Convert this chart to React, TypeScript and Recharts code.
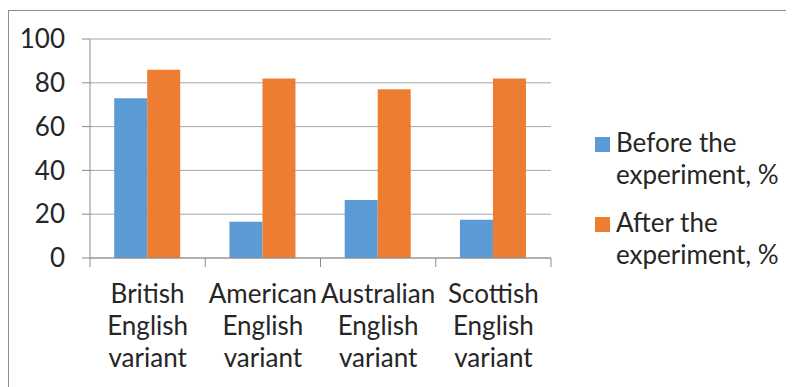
import { Bar, BarChart, CartesianGrid, XAxis, YAxis } from "recharts";

const categories = [
  "British English variant",
  "American English variant",
  "Australian English variant",
  "Scottish English variant",
];
const beforeValues = [73, 16.5, 26.5, 17.5];
const afterValues = [86, 82, 77, 82];
const yTicks = [0, 20, 40, 60, 80, 100];
const seriesNames = ["Before the experiment, %", "After the experiment, %"];
const seriesColors = ["#5B9BD5", "#ED7D31"];

const data = categories.map((category, i) => ({
  category,
  before: beforeValues[i],
  after: afterValues[i],
}));

const W = 786;
const H = 377;
const Y_W = 81;
const X_H = 130;
const MARGIN = { top: 28, right: 244, bottom: 0, left: 0 };
const band = (W - MARGIN.left - MARGIN.right - Y_W) / categories.length;

const AXIS = "#8c8c8c";
const GRID = "#a6a6a6";
const TEXT = "#262626";
const FONT = "Lato, 'Open Sans', sans-serif";

function CategoryTick(props: any) {
  const { x, y, payload, index } = props;
  const words = String(payload.value).split(" ");
  return (
    <g>
      <line x1={x - band / 2} x2={x - band / 2} y1={y} y2={y + 9} stroke={AXIS} />
      {index === categories.length - 1 && (
        <line x1={x + band / 2} x2={x + band / 2} y1={y} y2={y + 9} stroke={AXIS} />
      )}
      <text x={x} y={y} textAnchor="middle" fill={TEXT} fontSize={26} fontFamily={FONT}>
        {words.map((w, i) => (
          <tspan key={w + i} x={x} dy={i === 0 ? 45 : 32}>
            {w}
          </tspan>
        ))}
      </text>
    </g>
  );
}

function LegendBox() {
  return (
    <div
      style={{
        position: "absolute",
        left: 586,
        top: 115,
        fontFamily: FONT,
        fontSize: 26,
        lineHeight: "32px",
        color: TEXT,
      }}
    >
      {seriesNames.map((name, i) => {
        const words = name.split(" ");
        return (
          <div key={name} style={{ position: "relative", paddingLeft: 21, marginBottom: i === 0 ? 16 : 0 }}>
            <span
              style={{
                position: "absolute",
                left: 0,
                top: 11,
                width: 15,
                height: 15,
                background: seriesColors[i],
              }}
            />
            <div>{words.slice(0, 2).join(" ")}</div>
            <div>{words.slice(2).join(" ")}</div>
          </div>
        );
      })}
    </div>
  );
}

export default function App() {
  return (
    <div
      style={{
        position: "relative",
        marginTop: 2,
        width: W,
        height: H,
        borderTop: "1px solid #8c8c8c",
        borderLeft: "1px solid #8c8c8c",
        background: "#fff",
      }}
    >
      <BarChart
        width={W}
        height={H}
        data={data}
        margin={MARGIN}
        barCategoryGap="21%"
        barGap={0}
        style={{ fontFamily: FONT }}
      >
        <CartesianGrid vertical={false} stroke={GRID} />
        <XAxis
          dataKey="category"
          height={X_H}
          interval={0}
          tickLine={false}
          tickSize={0}
          tickMargin={0}
          axisLine={{ stroke: AXIS }}
          tick={<CategoryTick />}
        />
        <YAxis
          width={Y_W}
          domain={[0, 100]}
          ticks={yTicks}
          interval={0}
          tickSize={8}
          tickMargin={17}
          axisLine={{ stroke: AXIS }}
          tickLine={{ stroke: AXIS }}
          tick={{ fill: TEXT, fontSize: 26, fontFamily: FONT }}
        />
        <Bar dataKey="before" name={seriesNames[0]} fill={seriesColors[0]} isAnimationActive={false} />
        <Bar dataKey="after" name={seriesNames[1]} fill={seriesColors[1]} isAnimationActive={false} />
      </BarChart>
      <LegendBox />
    </div>
  );
}
